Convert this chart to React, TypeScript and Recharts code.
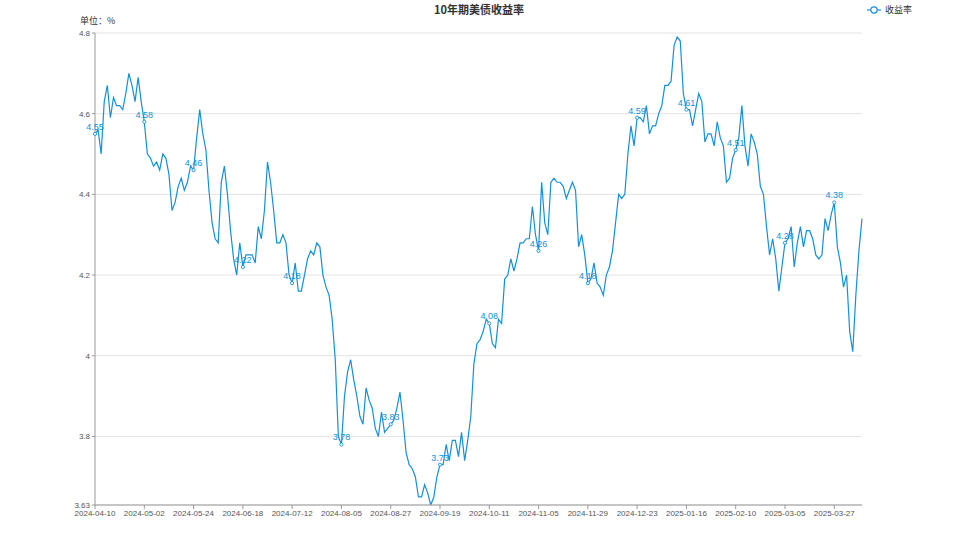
import { CartesianGrid, LabelList, Line, LineChart, XAxis, YAxis } from "recharts";

// 10年期美债收益率（日频，%）
const DATES = [
  "2024-04-10", "2024-04-11", "2024-04-12", "2024-04-15", "2024-04-16", "2024-04-17", "2024-04-18", "2024-04-19",
  "2024-04-22", "2024-04-23", "2024-04-24", "2024-04-25", "2024-04-26", "2024-04-29", "2024-04-30", "2024-05-01",
  "2024-05-02", "2024-05-03", "2024-05-06", "2024-05-07", "2024-05-08", "2024-05-09", "2024-05-10", "2024-05-13",
  "2024-05-14", "2024-05-15", "2024-05-16", "2024-05-17", "2024-05-20", "2024-05-21", "2024-05-22", "2024-05-23",
  "2024-05-24", "2024-05-28", "2024-05-29", "2024-05-30", "2024-05-31", "2024-06-03", "2024-06-04", "2024-06-05",
  "2024-06-06", "2024-06-07", "2024-06-10", "2024-06-11", "2024-06-12", "2024-06-13", "2024-06-14", "2024-06-17",
  "2024-06-18", "2024-06-20", "2024-06-21", "2024-06-24", "2024-06-25", "2024-06-26", "2024-06-27", "2024-06-28",
  "2024-07-01", "2024-07-02", "2024-07-03", "2024-07-05", "2024-07-08", "2024-07-09", "2024-07-10", "2024-07-11",
  "2024-07-12", "2024-07-15", "2024-07-16", "2024-07-17", "2024-07-18", "2024-07-19", "2024-07-22", "2024-07-23",
  "2024-07-24", "2024-07-25", "2024-07-26", "2024-07-29", "2024-07-30", "2024-07-31", "2024-08-01", "2024-08-02",
  "2024-08-05", "2024-08-06", "2024-08-07", "2024-08-08", "2024-08-09", "2024-08-12", "2024-08-13", "2024-08-14",
  "2024-08-15", "2024-08-16", "2024-08-19", "2024-08-20", "2024-08-21", "2024-08-22", "2024-08-23", "2024-08-26",
  "2024-08-27", "2024-08-28", "2024-08-29", "2024-08-30", "2024-09-03", "2024-09-04", "2024-09-05", "2024-09-06",
  "2024-09-09", "2024-09-10", "2024-09-11", "2024-09-12", "2024-09-13", "2024-09-16", "2024-09-17", "2024-09-18",
  "2024-09-19", "2024-09-20", "2024-09-23", "2024-09-24", "2024-09-25", "2024-09-26", "2024-09-27", "2024-09-30",
  "2024-10-01", "2024-10-02", "2024-10-03", "2024-10-04", "2024-10-07", "2024-10-08", "2024-10-09", "2024-10-10",
  "2024-10-11", "2024-10-15", "2024-10-16", "2024-10-17", "2024-10-18", "2024-10-21", "2024-10-22", "2024-10-23",
  "2024-10-24", "2024-10-25", "2024-10-28", "2024-10-29", "2024-10-30", "2024-10-31", "2024-11-01", "2024-11-04",
  "2024-11-05", "2024-11-06", "2024-11-07", "2024-11-08", "2024-11-12", "2024-11-13", "2024-11-14", "2024-11-15",
  "2024-11-18", "2024-11-19", "2024-11-20", "2024-11-21", "2024-11-22", "2024-11-25", "2024-11-26", "2024-11-27",
  "2024-11-29", "2024-12-02", "2024-12-03", "2024-12-04", "2024-12-05", "2024-12-06", "2024-12-09", "2024-12-10",
  "2024-12-11", "2024-12-12", "2024-12-13", "2024-12-16", "2024-12-17", "2024-12-18", "2024-12-19", "2024-12-20",
  "2024-12-23", "2024-12-24", "2024-12-26", "2024-12-27", "2024-12-30", "2024-12-31", "2025-01-02", "2025-01-03",
  "2025-01-06", "2025-01-07", "2025-01-08", "2025-01-09", "2025-01-10", "2025-01-13", "2025-01-14", "2025-01-15",
  "2025-01-16", "2025-01-17", "2025-01-21", "2025-01-22", "2025-01-23", "2025-01-24", "2025-01-27", "2025-01-28",
  "2025-01-29", "2025-01-30", "2025-01-31", "2025-02-03", "2025-02-04", "2025-02-05", "2025-02-06", "2025-02-07",
  "2025-02-10", "2025-02-11", "2025-02-12", "2025-02-13", "2025-02-14", "2025-02-18", "2025-02-19", "2025-02-20",
  "2025-02-21", "2025-02-24", "2025-02-25", "2025-02-26", "2025-02-27", "2025-02-28", "2025-03-03", "2025-03-04",
  "2025-03-05", "2025-03-06", "2025-03-07", "2025-03-10", "2025-03-11", "2025-03-12", "2025-03-13", "2025-03-14",
  "2025-03-17", "2025-03-18", "2025-03-19", "2025-03-20", "2025-03-21", "2025-03-24", "2025-03-25", "2025-03-26",
  "2025-03-27", "2025-03-28", "2025-03-31", "2025-04-01", "2025-04-02", "2025-04-03", "2025-04-04", "2025-04-07",
  "2025-04-08", "2025-04-09",
];

const YIELDS = [
  4.55, 4.56, 4.5, 4.63, 4.67, 4.59, 4.64, 4.62, 4.62, 4.61, 4.65, 4.7, 4.67, 4.63, 4.69, 4.63,
  4.58, 4.5, 4.49, 4.47, 4.48, 4.46, 4.5, 4.49, 4.45, 4.36, 4.38, 4.42, 4.44, 4.41, 4.43, 4.47,
  4.46, 4.54, 4.61, 4.55, 4.51, 4.41, 4.33, 4.29, 4.28, 4.43, 4.47, 4.4, 4.31, 4.24, 4.2, 4.28,
  4.22, 4.25, 4.25, 4.25, 4.23, 4.32, 4.29, 4.36, 4.48, 4.43, 4.36, 4.28, 4.28, 4.3, 4.28, 4.2,
  4.18, 4.23, 4.16, 4.16, 4.2, 4.24, 4.26, 4.25, 4.28, 4.27, 4.2, 4.17, 4.15, 4.09, 3.99, 3.8,
  3.78, 3.9, 3.96, 3.99, 3.94, 3.9, 3.85, 3.83, 3.92, 3.89, 3.87, 3.82, 3.8, 3.86, 3.81, 3.82,
  3.83, 3.84, 3.87, 3.91, 3.84, 3.76, 3.73, 3.72, 3.7, 3.65, 3.65, 3.68, 3.66, 3.63, 3.65, 3.7,
  3.73, 3.73, 3.78, 3.74, 3.79, 3.79, 3.75, 3.81, 3.74, 3.79, 3.85, 3.98, 4.03, 4.04, 4.06, 4.09,
  4.08, 4.03, 4.02, 4.09, 4.08, 4.19, 4.2, 4.24, 4.21, 4.24, 4.28, 4.28, 4.29, 4.29, 4.37, 4.3,
  4.26, 4.43, 4.33, 4.3, 4.43, 4.44, 4.43, 4.43, 4.42, 4.39, 4.41, 4.43, 4.41, 4.27, 4.3, 4.25,
  4.18, 4.19, 4.23, 4.18, 4.17, 4.15, 4.2, 4.22, 4.26, 4.33, 4.4, 4.39, 4.4, 4.5, 4.57, 4.52,
  4.59, 4.59, 4.58, 4.62, 4.55, 4.57, 4.57, 4.6, 4.62, 4.67, 4.67, 4.68, 4.77, 4.79, 4.78, 4.65,
  4.61, 4.61, 4.57, 4.61, 4.65, 4.63, 4.53, 4.55, 4.55, 4.52, 4.58, 4.54, 4.52, 4.43, 4.44, 4.49,
  4.51, 4.54, 4.62, 4.52, 4.47, 4.55, 4.53, 4.5, 4.42, 4.4, 4.32, 4.25, 4.29, 4.24, 4.16, 4.22,
  4.28, 4.29, 4.32, 4.22, 4.28, 4.32, 4.27, 4.31, 4.31, 4.29, 4.25, 4.24, 4.25, 4.34, 4.31, 4.35,
  4.38, 4.27, 4.23, 4.17, 4.2, 4.06, 4.01, 4.15, 4.26, 4.34,
];

const Y_TICKS = [3.63, 3.8, 4, 4.2, 4.4, 4.6, 4.8];
const LABEL_STEP = 16;

const LINE = "#1590d8";
const AXIS_TEXT = "#555";
const FONT = "'Liberation Sans', Arial, 'Noto Sans CJK SC', sans-serif";
const CJK = "'Noto Sans CJK SC', 'Liberation Sans', sans-serif";

const rows = DATES.map((date, i) => ({
  date,
  value: YIELDS[i],
  tag: i % LABEL_STEP === 0 ? YIELDS[i] : null,
}));

function renderDot(p: any) {
  const key = `dot-${p.index}`;
  if (p.payload?.tag == null) return <g key={key} />;
  return <circle key={key} cx={p.cx} cy={p.cy} r={1.6} fill="#fff" stroke={LINE} strokeWidth={0.9} />;
}

function renderTag(p: any) {
  if (p.value == null) return null;
  return (
    <text x={p.x} y={p.y - 4} textAnchor="middle" fontSize={9} fill={LINE} fontFamily={FONT}>
      {p.value}
    </text>
  );
}

export default function App() {
  return (
    <div style={{ position: "absolute", left: 0, top: 0, width: 958, height: 539, background: "#fff" }}>
      <div
        style={{
          position: "absolute",
          left: 0,
          width: 958,
          top: 1,
          textAlign: "center",
          fontFamily: CJK,
          fontWeight: "bold",
          fontSize: 11,
          color: "#333",
        }}
      >
        10年期美债收益率
      </div>
      <div style={{ position: "absolute", left: 80, top: 14, fontFamily: CJK, fontSize: 9, color: "#333" }}>
        单位：%
      </div>
      <div
        style={{
          position: "absolute",
          left: 866,
          top: 3,
          display: "flex",
          alignItems: "center",
          fontFamily: CJK,
          fontSize: 9,
          color: "#333",
        }}
      >
        <svg width={16} height={10} style={{ marginRight: 3 }}>
          <line x1={1} y1={5} x2={15} y2={5} stroke={LINE} strokeWidth={1.2} />
          <circle cx={8} cy={5} r={3.2} fill="#fff" stroke={LINE} strokeWidth={1.2} />
        </svg>
        收益率
      </div>
      <LineChart width={958} height={539} data={rows} margin={{ top: 33, right: 96, left: 0, bottom: 0 }}>
        <CartesianGrid vertical={false} stroke="#e3e3e3" />
        <XAxis
          dataKey="date"
          interval={LABEL_STEP - 1}
          height={34}
          tickSize={4}
          tickMargin={1}
          axisLine={{ stroke: "#999" }}
          tickLine={{ stroke: "#999" }}
          tick={{ fontSize: 8, fill: AXIS_TEXT, fontFamily: FONT }}
        />
        <YAxis
          type="number"
          width={95}
          domain={[3.63, 4.8]}
          ticks={Y_TICKS}
          allowDataOverflow
          tickSize={3}
          tickMargin={2}
          axisLine={{ stroke: "#999" }}
          tickLine={{ stroke: "#999" }}
          tick={{ fontSize: 8, fill: AXIS_TEXT, fontFamily: FONT }}
          tickFormatter={(v: number) => String(v)}
        />
        <Line
          type="linear"
          dataKey="value"
          stroke={LINE}
          strokeWidth={1.2}
          dot={renderDot}
          activeDot={false}
          isAnimationActive={false}
        >
          <LabelList dataKey="tag" content={renderTag} />
        </Line>
      </LineChart>
    </div>
  );
}
